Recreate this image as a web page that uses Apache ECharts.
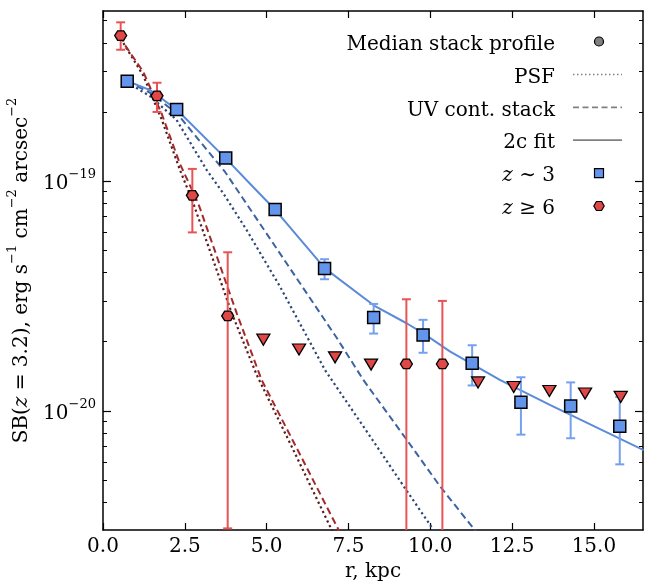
<!DOCTYPE html>
<html><head><meta charset="utf-8">
<script src="https://cdn.jsdelivr.net/npm/echarts@6/dist/echarts.min.js"></script>
<style>html,body{margin:0;padding:0;background:#fff}#c{width:654px;height:582px}</style>
</head><body><div id="c"></div>
<script>
// ---- data (r in kpc, SB in erg s^-1 cm^-2 arcsec^-2) ----
const z3_r  = [0.74, 2.25, 3.75, 5.26, 6.77, 8.27, 9.78, 11.28, 12.77, 14.29, 15.79];
const z3_sb = [2.72e-19, 2.05e-19, 1.26e-19, 7.53e-20, 4.17e-20, 2.55e-20, 2.14e-20, 1.61e-20, 1.09e-20, 1.05e-20, 8.58e-21];
const z3_lo = [null, null, null, null, 3.74e-20, 2.17e-20, 1.79e-20, 1.29e-20, 7.88e-21, 7.60e-21, 5.85e-21];
const z3_hi = [null, null, null, null, 4.57e-20, 2.92e-20, 2.49e-20, 1.93e-20, 1.40e-20, 1.33e-20, 1.15e-20];

const z6_r  = [0.54, 1.65, 2.73, 3.81, 9.27, 10.37];
const z6_sb = [4.30e-19, 2.35e-19, 8.67e-20, 2.59e-20, 1.60e-20, 1.60e-20];
const z6_lo = [3.73e-19, 2.00e-19, 5.98e-20, 3.08e-21, null, null];
const z6_hi = [4.91e-19, 2.68e-19, 1.13e-19, 4.90e-20, 3.06e-20, 3.01e-20];

const z6lim_r  = [4.90, 5.99, 7.09, 8.19, 11.46, 12.55, 13.64, 14.73, 15.82];
const z6lim_sb = [2.04e-20, 1.85e-20, 1.71e-20, 1.59e-20, 1.33e-20, 1.27e-20, 1.22e-20, 1.19e-20, 1.15e-20];

const fit3_r  = [0.76, 1.44, 2.25, 3.75, 4.50, 5.26, 6.78, 8.27, 9.29, 9.80, 10.61, 12.14, 13.67, 16.52];
const fit3_sb = [2.72e-19, 2.49e-19, 2.05e-19, 1.256e-19, 9.72e-20, 7.50e-20, 4.17e-20, 2.88e-20, 2.40e-20, 2.17e-20, 1.81e-20, 1.36e-20, 1.06e-20, 6.75e-21];

const psf3_r  = [0.74, 1.44, 2.25, 3.17, 3.68, 4.39, 5.41, 6.79, 8.17, 9.20, 10.10, 10.30];
const psf3_sb = [2.69e-19, 2.34e-19, 1.845e-19, 1.117e-19, 8.83e-20, 6.12e-20, 3.47e-20, 1.50e-20, 7.71e-21, 4.67e-21, 3.03e-21, 2.75e-21];

const uv3_r  = [0.74, 1.50, 2.30, 3.73, 4.24, 4.91, 6.43, 7.15, 7.96, 9.29, 10.31, 11.32, 11.50];
const uv3_sb = [2.72e-19, 2.40e-19, 1.94e-19, 1.096e-19, 8.55e-20, 6.17e-20, 2.94e-20, 2.07e-20, 1.36e-20, 7.45e-21, 4.67e-21, 3.08e-21, 2.82e-21];

const uv6_r  = [0.54, 0.67, 1.23, 1.79, 2.35, 2.91, 4.09, 4.85, 5.90, 7.20, 7.30];
const uv6_sb = [4.31e-19, 3.91e-19, 2.99e-19, 1.97e-19, 1.19e-19, 8.0e-20, 2.65e-20, 1.36e-20, 6.97e-21, 3.03e-21, 2.82e-21];

const psf6_r  = [0.54, 1.23, 1.79, 2.35, 2.76, 3.94, 4.70, 5.77, 6.99, 7.10];
const psf6_sb = [4.17e-19, 2.88e-19, 1.86e-19, 1.12e-19, 8.0e-20, 2.65e-20, 1.43e-20, 6.97e-21, 3.03e-21, 2.82e-21];

// ---- axes ----
const xTicks = [0, 2.5, 5.0, 7.5, 10.0, 12.5, 15.0];
const yMajor = [1e-20, 1e-19];
const yMinor = [4e-21, 5e-21, 6e-21, 7e-21, 8e-21, 9e-21,
                2e-20, 3e-20, 4e-20, 5e-20, 6e-20, 7e-20, 8e-20, 9e-20,
                2e-19, 3e-19, 4e-19, 5e-19];
const X_MIN = 0, X_MAX = 16.5;
const Y_MIN = 3.03e-21, Y_MAX = 5.5e-19;

const legendLabels = ['Median stack profile', 'PSF', 'UV cont. stack', '2c fit', 'z ∼ 3', 'z ≥ 6'];

// ---- style ----
const FONT = '"DejaVu Serif", "Liberation Serif", serif';
const C_BLUE = '#6495ED', C_BLUE_LINE = '#5b8ad8', C_BLUE_ERR = '#74a0ee';
const C_RED = '#e04848', C_RED_ERR = '#e85454';
const C_NAVY_DOT = '#2c4677', C_NAVY_DASH = '#3d63a3';
const C_RED_DASH = '#a32a2a', C_RED_DOT = '#5a1a1a';

const L = Math.log10;
const pairs = (a, b) => a.map((v, i) => [v, b[i]]);
const errData = (r, sb, lo, hi) => r.map((v, i) => [v, sb[i], lo[i], hi[i]]).filter(d => d[3] != null);

function errRender(color) {
  return function (params, api) {
    const x = api.value(0), lo = api.value(2), hi = api.value(3);
    const cs = params.coordSys;
    const bottom = cs.y + cs.height;
    const pHi = api.coord([x, hi]);
    let yLo, capLo = true;
    if (!(lo > 0)) { yLo = bottom; capLo = false; }
    else {
      yLo = api.coord([x, lo])[1];
      if (yLo > bottom) { yLo = bottom; capLo = false; }
    }
    const cx = pHi[0], w = 4.5;
    const st = { stroke: color, lineWidth: 2 };
    const ch = [
      { type: 'line', shape: { x1: cx, y1: pHi[1], x2: cx, y2: yLo }, style: st },
      { type: 'line', shape: { x1: cx - w, y1: pHi[1], x2: cx + w, y2: pHi[1] }, style: st }
    ];
    if (capLo) ch.push({ type: 'line', shape: { x1: cx - w, y1: yLo, x2: cx + w, y2: yLo }, style: st });
    return { type: 'group', children: ch };
  };
}

const hexPath = 'path://M-1,0 L-0.5,-0.866 L0.5,-0.866 L1,0 L0.5,0.866 L-0.5,0.866 Z';

const richTxt = {
  n: { fontSize: 20, fontFamily: FONT, color: '#000', lineHeight: 26, verticalAlign: 'bottom' },
  i: { fontSize: 20, fontFamily: FONT, color: '#000', lineHeight: 26, verticalAlign: 'bottom', fontStyle: 'italic' },
  s: { fontSize: 13, fontFamily: FONT, color: '#000', lineHeight: 12, verticalAlign: 'top' }
};

const lineSeries = (name, r, sb, color, type, width) => ({
  name, type: 'line', data: pairs(r, sb), xAxisIndex: 0, yAxisIndex: 0,
  showSymbol: false, symbol: 'none', smooth: false, clip: true, z: 2,
  lineStyle: { color, width, type }
});

const DOT = [2.2, 3], DASH = [7, 4];

const axisLineBlack = { show: true, lineStyle: { color: '#000', width: 1.5 } };
const yBase = { type: 'value', min: L(Y_MIN), max: L(Y_MAX), splitLine: { show: false }, axisLine: { show: false } };

// ---- legend drawn as graphic ----
const legX = 555, legY0 = 41.5, legDY = 32.9, icoX = 599;
const graphics = [];
const legendRich = ['{n|Median stack profile}', '{n|PSF}', '{n|UV cont. stack}', '{n|2c fit}', '{i|z}{n| ∼ 3}', '{i|z}{n| ≥ 6}'];
legendRich.forEach((t, k) => {
  graphics.push({ type: 'text', x: legX, y: legY0 + k * legDY, z: 100,
    style: { text: t, rich: richTxt, align: 'right', verticalAlign: 'middle', textAlign: 'right', textVerticalAlign: 'middle', fill: '#000', fontSize: 20, fontFamily: FONT } });
});
const ly = k => legY0 + k * legDY;
graphics.push({ type: 'circle', z: 100, shape: { cx: icoX, cy: ly(0), r: 4.5 }, style: { fill: '#808080', stroke: '#000', lineWidth: 1.2 } });
graphics.push({ type: 'line', z: 100, shape: { x1: 573, y1: ly(1), x2: 622, y2: ly(1) }, style: { stroke: '#808080', lineWidth: 1.5, lineDash: [1.5, 2.5] } });
graphics.push({ type: 'line', z: 100, shape: { x1: 573, y1: ly(2), x2: 622, y2: ly(2) }, style: { stroke: '#808080', lineWidth: 1.8, lineDash: [6, 3.5] } });
graphics.push({ type: 'line', z: 100, shape: { x1: 573, y1: ly(3), x2: 622, y2: ly(3) }, style: { stroke: '#808080', lineWidth: 1.8 } });
graphics.push({ type: 'rect', z: 100, shape: { x: icoX - 4.5, y: ly(4) - 4.5, width: 9, height: 9 }, style: { fill: C_BLUE, stroke: '#000', lineWidth: 1.2 } });
graphics.push({ type: 'polygon', z: 100, shape: { points: [[-1, 0], [-0.5, -0.866], [0.5, -0.866], [1, 0], [0.5, 0.866], [-0.5, 0.866]].map(p => [icoX + p[0] * 5.2, ly(5) + p[1] * 5.2]) }, style: { fill: C_RED, stroke: '#000', lineWidth: 1.2 } });

const option = {
  animation: false,
  backgroundColor: '#fff',
  grid: { left: 103, right: 11, top: 11, bottom: 52, containLabel: false, outerBoundsMode: 'none' },
  xAxis: [
    { type: 'value', min: X_MIN, max: X_MAX, interval: 2.5, position: 'bottom',
      axisLine: axisLineBlack, splitLine: { show: false },
      axisTick: { inside: true, length: 7, customValues: xTicks, lineStyle: { color: '#000', width: 1.2 } },
      axisLabel: { customValues: xTicks, margin: 7, color: '#000', fontSize: 20, fontFamily: FONT, formatter: v => v.toFixed(1) },
      name: 'r, kpc', nameLocation: 'middle', nameGap: 31,
      nameTextStyle: { color: '#000', fontSize: 20, fontFamily: FONT } },
    { type: 'value', min: X_MIN, max: X_MAX, interval: 2.5, position: 'top',
      axisLine: axisLineBlack, splitLine: { show: false },
      axisTick: { inside: true, length: 7, customValues: xTicks, lineStyle: { color: '#000', width: 1.2 } },
      axisLabel: { show: false } }
  ],
  yAxis: [
    { type: 'log', min: Y_MIN, max: Y_MAX, show: false, splitLine: { show: false } },
    Object.assign({}, yBase, { position: 'left', axisLine: axisLineBlack,
      axisTick: { inside: true, length: 8, customValues: yMajor.map(L), lineStyle: { color: '#000', width: 1.2 } },
      axisLabel: { customValues: yMajor.map(L), margin: 7, rich: richTxt,
        formatter: v => '{n|10}{s|−' + Math.abs(Math.round(v)) + '}' },
      name: '{n|SB(}{i|z}{n| = 3.2), erg s}{s|−1}{n| cm}{s|−2}{n| arcsec}{s|−2}',
      nameLocation: 'middle', nameRotate: 90, nameGap: 55,
      nameTextStyle: { rich: richTxt, fontSize: 20, fontFamily: FONT, color: '#000' } }),
    Object.assign({}, yBase, { position: 'left',
      axisTick: { inside: true, length: 4, customValues: yMinor.map(L), lineStyle: { color: '#000', width: 1 } },
      axisLabel: { show: false } }),
    Object.assign({}, yBase, { position: 'right', axisLine: axisLineBlack,
      axisTick: { inside: true, length: 8, customValues: yMajor.map(L), lineStyle: { color: '#000', width: 1.2 } },
      axisLabel: { show: false } }),
    Object.assign({}, yBase, { position: 'right',
      axisTick: { inside: true, length: 4, customValues: yMinor.map(L), lineStyle: { color: '#000', width: 1 } },
      axisLabel: { show: false } })
  ],
  graphic: { elements: graphics },
  series: [
    lineSeries('PSF z≥6', psf6_r, psf6_sb, C_RED_DOT, DOT, 2.2),
    lineSeries('UV cont. stack z≥6', uv6_r, uv6_sb, C_RED_DASH, DASH, 2),
    lineSeries('PSF z∼3', psf3_r, psf3_sb, C_NAVY_DOT, DOT, 2.2),
    lineSeries('UV cont. stack z∼3', uv3_r, uv3_sb, C_NAVY_DASH, DASH, 2),
    lineSeries('2c fit z∼3', fit3_r, fit3_sb, C_BLUE_LINE, 'solid', 2),
    { name: 'err z∼3', type: 'custom', xAxisIndex: 0, yAxisIndex: 0, z: 3,
      renderItem: errRender(C_BLUE_ERR), encode: { x: 0, y: 1 },
      data: errData(z3_r, z3_sb, z3_lo, z3_hi) },
    { name: 'err z≥6', type: 'custom', xAxisIndex: 0, yAxisIndex: 0, z: 3,
      renderItem: errRender(C_RED_ERR), encode: { x: 0, y: 1 },
      data: errData(z6_r, z6_sb, z6_lo, z6_hi) },
    { name: 'z ∼ 3', type: 'scatter', xAxisIndex: 0, yAxisIndex: 0, z: 4,
      symbol: 'rect', symbolSize: 12, data: pairs(z3_r, z3_sb),
      itemStyle: { color: C_BLUE, borderColor: '#000', borderWidth: 1.5, opacity: 1 } },
    { name: 'z ≥ 6', type: 'scatter', xAxisIndex: 0, yAxisIndex: 0, z: 4,
      symbol: hexPath, symbolKeepAspect: true, symbolSize: [12, 11], data: pairs(z6_r, z6_sb),
      itemStyle: { color: C_RED, borderColor: '#000', borderWidth: 1.3, opacity: 1 } },
    { name: 'z ≥ 6 limits', type: 'scatter', xAxisIndex: 0, yAxisIndex: 0, z: 5,
      symbol: 'triangle', symbolRotate: 180, symbolSize: [13, 11], data: pairs(z6lim_r, z6lim_sb),
      itemStyle: { color: C_RED, borderColor: '#000', borderWidth: 1.3, opacity: 1 } }
  ]
};

const chart = echarts.init(document.getElementById('c'), null, { renderer: 'canvas' });
chart.setOption(option);
</script>
</body></html>
